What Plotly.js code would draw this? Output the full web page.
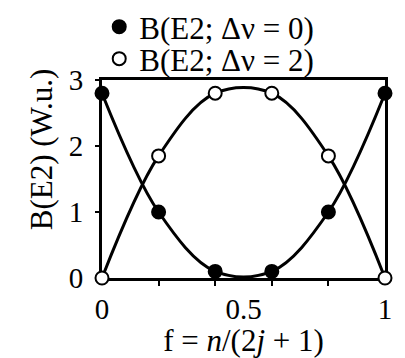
<!DOCTYPE html>
<html>
<head>
<meta charset="utf-8">
<script src="https://cdn.plot.ly/plotly-3.0.1.min.js"></script>
<style>
  html, body { margin: 0; padding: 0; background: #fff; }
  #chart { width: 405px; height: 358px; }
</style>
</head>
<body>
<div id="chart"></div>
<script>
// Occupation fraction f = n/(2j+1) and reduced E2 strengths (W.u.)
const fraction = [0, 0.2, 0.4, 0.6, 0.8, 1];
const bE2Seniority0 = [2.8, 1.0, 0.1, 0.1, 1.0, 2.8];   // Δν = 0
const bE2Seniority2 = [0, 1.85, 2.8, 2.8, 1.85, 0];     // Δν = 2

const seriesNames = ['B(E2; Δν = 0)', 'B(E2; Δν = 2)'];
const xTitle = 'f = <i>n</i>/(2<i>j</i> + 1)';
const yTitle = 'B(E2) (W.u.)';
const xTickValues = [0, 0.5, 1];
const xTickLabels = ['0', '0.5', '1'];
const xMinorTickValues = [0.2, 0.4, 0.6, 0.8];
const yTickValues = [0, 1, 2, 3];
const yTickLabels = ['0', '1', '2', '3'];

const serif = 'Liberation Serif';
const tickSize = 29;
const textSize = 31;

function curve(y) {
  return {
    x: fraction, y: y, type: 'scatter', mode: 'lines',
    line: { color: '#000', width: 3, shape: 'spline', smoothing: 1 },
    hoverinfo: 'skip', showlegend: false, cliponaxis: false
  };
}

function points(y, name, fill, legendId) {
  return {
    x: fraction, y: y, type: 'scatter', mode: 'markers', name: name,
    legend: legendId,
    marker: { size: 13, color: fill, line: { color: '#000', width: 2 } },
    cliponaxis: false
  };
}

const data = [
  curve(bE2Seniority0),
  curve(bE2Seniority2),
  points(bE2Seniority0, seriesNames[0], '#000', 'legend'),
  points(bE2Seniority2, seriesNames[1], '#fff', 'legend2')
];

const axisCommon = {
  showgrid: false, zeroline: false, showline: true, mirror: true,
  linecolor: '#000', linewidth: 3, layer: 'below traces',
  tickfont: { family: serif, size: tickSize, color: '#000' },
  tickcolor: '#000', tickwidth: 2
};

// Each legend row is placed on its own so the two rows sit close together
function legendAt(topPx) {
  return {
    xref: 'container', yref: 'container', x: 0.245, y: 1 - topPx / 358,
    xanchor: 'left', yanchor: 'top',
    bgcolor: 'rgba(0,0,0,0)', borderwidth: 0,
    font: { family: serif, size: textSize, color: '#000' },
    itemsizing: 'trace'
  };
}

const layout = {
  width: 405, height: 358,
  margin: { l: 102, r: 20, t: 80, b: 80, autoexpand: false },
  paper_bgcolor: '#fff', plot_bgcolor: '#fff',
  font: { family: serif, size: textSize, color: '#000' },
  showlegend: true,
  legend: legendAt(-7),
  legend2: legendAt(32),
  xaxis: Object.assign({}, axisCommon, {
    range: [0, 1],
    tickmode: 'array', tickvals: xTickValues, ticktext: xTickLabels,
    ticks: '', ticklabelstandoff: 3,
    minor: { tickmode: 'array', tickvals: xMinorTickValues, ticks: 'outside', ticklen: 5, tickwidth: 2, tickcolor: '#000' },
    title: { text: xTitle, font: { family: serif, size: textSize, color: '#000' }, standoff: 3 }
  }),
  yaxis: Object.assign({}, axisCommon, {
    range: [0, 3],
    tickmode: 'array', tickvals: yTickValues, ticktext: yTickLabels,
    ticks: 'outside', ticklen: 4, ticklabelstandoff: 6
  }),
  annotations: [{
    text: yTitle, textangle: -90, showarrow: false,
    xref: 'paper', yref: 'paper', x: (41 - 102) / 283, y: 0.65,
    xanchor: 'center', yanchor: 'middle',
    font: { family: serif, size: textSize, color: '#000' }
  }]
};

Plotly.newPlot('chart', data, layout, { displayModeBar: false, staticPlot: true });
</script>
</body>
</html>
